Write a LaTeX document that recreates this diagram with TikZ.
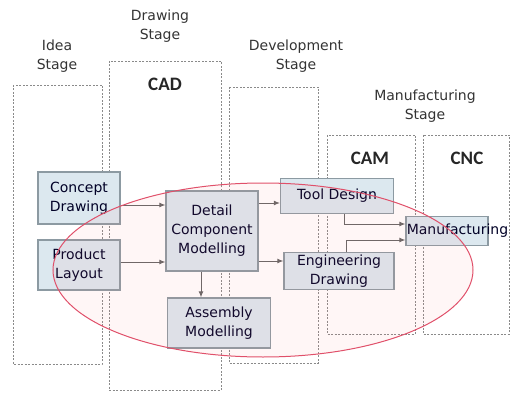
\documentclass[tikz,border=0pt]{standalone}
\usepackage{fontspec}
\setmainfont{DejaVu Sans}
\newfontfamily\capfont{Carlito}
\usetikzlibrary{arrows.meta}
\definecolor{boxfill}{HTML}{DCE8EF}
\definecolor{boxline}{HTML}{8C9AA2}
\definecolor{stageline}{HTML}{8A8A8A}
\definecolor{ringline}{HTML}{E0506A}

\begin{document}
\begin{tikzpicture}[x=1pt, y=-1pt,
  proc/.style={draw=boxline, line width=1.2pt, fill=boxfill, align=center,
    inner sep=0pt, text=black!85!blue, font=\fontsize{14}{19}\selectfont},
  stagebox/.style={draw=stageline, line width=0.8pt, dash pattern=on 2pt off 1.5pt},
  stagetxt/.style={align=center, text=black!80, font=\fontsize{14}{19}\selectfont},
  captxt/.style={text=black!85, font=\capfont\bfseries\fontsize{19}{22}\selectfont},
  arr/.style={-{Latex[length=6pt,width=5pt]}, draw=black!60, line width=1pt}]
  \useasboundingbox (0,0) rectangle (511,393);
  % stage frames
  \draw[stagebox] (13,85) rectangle (102,364);
  \draw[stagebox] (109,61) rectangle (221,390);
  \draw[stagebox] (229,87) rectangle (318,363);
  \draw[stagebox] (327,135) rectangle (415,334);
  \draw[stagebox] (423,135) rectangle (509,334);
  % stage titles
  \node[stagetxt] (idea) at (57,56) {Idea\\Stage};
  \node[stagetxt] (drawst) at (160,26) {Drawing\\Stage};
  \node[stagetxt] (devst) at (296,56) {Development\\Stage};
  \node[stagetxt] (manst) at (425,106) {Manufacturing\\Stage};
  \node[captxt] (cad) at (165,84) {CAD};
  \node[captxt] (cam) at (370,158) {CAM};
  \node[captxt] (cnc) at (467,158) {CNC};
  % process boxes
  \node[proc, minimum width=82, minimum height=52] (concept) at (79,198) {Concept\\Drawing};
  \node[proc, minimum width=82, minimum height=50] (product) at (79,265) {Product\\Layout};
  \node[proc, minimum width=92, minimum height=80] (detail) at (212,231) {Detail\\Component\\Modelling};
  \node[proc, minimum width=103, minimum height=50] (assembly) at (219,323) {Assembly\\Modelling};
  \node[proc, minimum width=113, minimum height=35] (tool) at (337,196) {Tool Design};
  \node[proc, minimum width=110, minimum height=37] (eng) at (339,271) {Engineering\\Drawing};
  \node[proc, minimum width=82, minimum height=29,
    label={[proc, draw=none, fill=none, xshift=10.5pt]center:Manufacturing}] (manuf) at (447,231) {};
  % connectors
  \draw[arr] (concept.east |- 0,205) -- (detail.west |- 0,205);
  \draw[arr] (product.east |- 0,262) -- (detail.west |- 0,262);
  \draw[arr] (detail.east |- 0,203) -- (tool.west |- 0,203);
  \draw[arr] (detail.east |- 0,261) -- (eng.west |- 0,261);
  \draw[arr] (detail.south -| 201,0) -- (assembly.north -| 201,0);
  \draw[arr] ([xshift=7pt]tool.south) |- ([yshift=7pt]manuf.west);
  \draw[arr] ([xshift=7pt]eng.north) |- ([yshift=-9pt]manuf.west);
  % highlight ring
  \draw[draw=ringline, line width=1pt, fill=red!50, fill opacity=0.07] (263,270) ellipse [x radius=210, y radius=87];
\end{tikzpicture}
\end{document}
